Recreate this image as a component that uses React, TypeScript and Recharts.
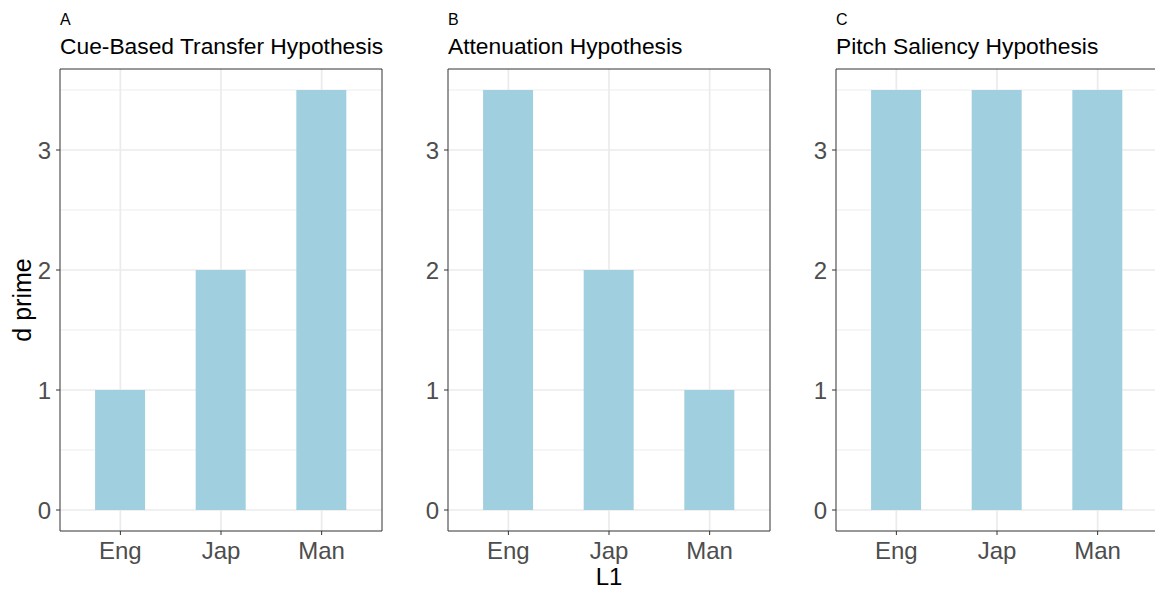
import React from "react";
import {
  BarChart,
  Bar,
  XAxis,
  YAxis,
  CartesianGrid,
  ReferenceArea,
} from "recharts";

const categories = ["Eng", "Jap", "Man"];
const cueBased = [1, 2, 3.5];
const attenuation = [3.5, 2, 1];
const pitchSaliency = [3.5, 3.5, 3.5];
const panelTags = ["A", "B", "C"];
const panelTitles = [
  "Cue-Based Transfer Hypothesis",
  "Attenuation Hypothesis",
  "Pitch Saliency Hypothesis",
];
const yTicks = [0, 1, 2, 3];
const yMinor = [0.5, 1.5, 2.5, 3.5];

const FONT = "'Liberation Sans', Arial, Helvetica, sans-serif";
const X_DOMAIN = [0.4, 3.6];
const Y_DOMAIN = [-0.175, 3.675];

const Panel = ({ values, tag, title, left }) => {
  const data = categories.map((c, i) => ({ x: i + 1, name: c, value: values[i] }));
  return (
    <div style={{ position: "absolute", left, top: 0, width: 400, height: 594 }}>
      <div style={{ position: "absolute", left: 60, top: 12, fontSize: 16, lineHeight: "16px", whiteSpace: "nowrap" }}>
        {tag}
      </div>
      <div style={{ position: "absolute", left: 60, top: 35, fontSize: 22.8, lineHeight: "22.8px", whiteSpace: "nowrap" }}>
        {title}
      </div>
      <BarChart
        width={400}
        height={594}
        data={data}
        margin={{ top: 69, right: 18, bottom: 0, left: 0 }}
      >
        <CartesianGrid
          stroke="#EBEBEB"
          strokeWidth={0.9}
          horizontalValues={yMinor}
          vertical={false}
        />
        <CartesianGrid
          stroke="#EBEBEB"
          strokeWidth={1.7}
          horizontalValues={yTicks}
          verticalValues={[1, 2, 3]}
        />
        <XAxis
          type="number"
          dataKey="x"
          domain={X_DOMAIN}
          ticks={[1, 2, 3]}
          allowDataOverflow
          tickFormatter={(v) => categories[v - 1]}
          height={63}
          axisLine={false}
          tickSize={4}
          tickMargin={7}
          tickLine={{ stroke: "#333333" }}
          tick={{ fontSize: 24, fill: "#4D4D4D", fontFamily: FONT }}
        />
        <YAxis
          type="number"
          domain={Y_DOMAIN}
          ticks={yTicks}
          allowDataOverflow
          width={60}
          axisLine={false}
          tickSize={4}
          tickMargin={5}
          tickLine={{ stroke: "#333333" }}
          tick={{ fontSize: 24, fill: "#4D4D4D", fontFamily: FONT }}
        />
        <Bar dataKey="value" fill="#A0CFDF" barSize={50} isAnimationActive={false} />
        <ReferenceArea
          x1={X_DOMAIN[0]}
          x2={X_DOMAIN[1]}
          y1={Y_DOMAIN[0]}
          y2={Y_DOMAIN[1]}
          fill="none"
          fillOpacity={0}
          stroke="#333333"
          strokeWidth={1}
          ifOverflow="visible"
        />
      </BarChart>
    </div>
  );
};

export default function App() {
  return (
    <div
      style={{
        position: "absolute",
        left: 0,
        top: 0,
        width: 1155,
        height: 594,
        overflow: "hidden",
        background: "#fff",
        fontFamily: FONT,
        color: "#000",
      }}
    >
      <Panel values={cueBased} tag={panelTags[0]} title={panelTitles[0]} left={0} />
      <Panel values={attenuation} tag={panelTags[1]} title={panelTitles[1]} left={388} />
      <Panel values={pitchSaliency} tag={panelTags[2]} title={panelTitles[2]} left={776} />
      <div
        style={{
          position: "absolute",
          left: 22,
          top: 300,
          fontSize: 25,
          lineHeight: "25px",
          whiteSpace: "nowrap",
          transform: "translate(-50%, -50%) rotate(-90deg)",
        }}
      >
        d prime
      </div>
      <div
        style={{
          position: "absolute",
          left: 609,
          top: 565,
          fontSize: 24,
          lineHeight: "24px",
          transform: "translateX(-50%)",
        }}
      >
        L1
      </div>
    </div>
  );
}
